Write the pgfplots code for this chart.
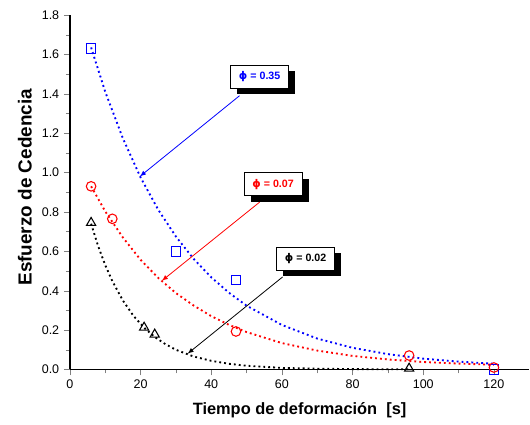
\documentclass[border=0pt]{standalone}
\usepackage{fontspec}
\setmainfont{Liberation Sans}
\newfontfamily\phifont{DejaVu Sans}
\usepackage{pgfplots}
\pgfplotsset{compat=1.18}

\begin{document}
\begin{tikzpicture}
% page frame around the axis and its labels
\path (-52.5pt,-41.25pt) rectangle (345pt,277.5pt);
\begin{axis}[
  at={(0pt,0pt)}, anchor=south west,
  scale only axis, width=345pt, height=266.25pt,
  xmin=0, xmax=130, ymin=0, ymax=1.8,
  axis x line=bottom, axis y line=left,
  axis line style={-, line width=1.1pt},
  xtick={0,20,40,60,80,100,120}, minor x tick num=1,
  xticklabels={0,20,40,60,80,100,120},
  ytick={0,0.2,0.4,0.6,0.8,1.0,1.2,1.4,1.6,1.8}, minor y tick num=1,
  yticklabels={0.0,0.2,0.4,0.6,0.8,1.0,1.2,1.4,1.6,1.8},
  tick align=outside,
  major tick length=4.5pt, minor tick length=3pt,
  tick label style={font=\fontsize{9.4}{10}\selectfont},
  xlabel={Tiempo de deformación\ \ \mbox{[s]}},
  ylabel={Esfuerzo de Cedencia},
  xlabel style={font=\fontsize{12.3}{14}\selectfont\bfseries,
    at={(axis description cs:0.5,-0.1155)}, anchor=center},
  ylabel style={font=\fontsize{14.2}{16}\selectfont\bfseries,
    at={(axis description cs:-0.0978,0.514)}, anchor=center},
  clip=false,
]
% fitted decay curves
\addplot[blue, line width=1.4pt, dash pattern=on 1.4pt off 2.3pt] coordinates {
 (6,1.635) (10,1.410) (15,1.173) (20,0.975) (25,0.811) (30,0.675) (35,0.562)
 (40,0.468) (45,0.390) (50,0.324) (60,0.226) (70,0.157) (80,0.110) (90,0.078)
 (100,0.055) (110,0.040) (120,0.029)};
\addplot[red, line width=1.4pt, dash pattern=on 1.4pt off 2.3pt] coordinates {
 (6,0.930) (10,0.803) (15,0.670) (20,0.557) (25,0.465) (30,0.388) (35,0.325)
 (40,0.271) (45,0.227) (50,0.190) (60,0.134) (70,0.096) (80,0.069) (90,0.051)
 (100,0.038) (110,0.030) (120,0.024)};
\addplot[black, line width=1.4pt, dash pattern=on 1.4pt off 2.3pt] coordinates {
 (6,0.740) (8,0.626) (10,0.530) (12,0.449) (15,0.350) (18,0.272) (21,0.212)
 (24,0.165) (27,0.129) (30,0.100) (35,0.066) (40,0.044) (45,0.029) (50,0.019)
 (60,0.008) (70,0.004) (80,0.002) (90,0.001) (96,0.001)};
% measured points
\addplot[only marks, blue, mark=square, mark size=3.6pt, mark options={line width=0.8pt}] coordinates {
 (6,1.63) (30,0.60) (47,0.455) (120,0.0)};
\addplot[only marks, red, mark=o, mark size=3.6pt, mark options={line width=0.8pt}] coordinates {
 (6,0.93) (12,0.765) (47,0.193) (96,0.071) (120,0.01)};
\addplot[only marks, black, mark=triangle, mark size=4pt, mark options={line width=0.8pt}] coordinates {
 (6,0.745) (21,0.213) (24,0.178) (96,0.005)};
% annotation arrows
\draw[blue, line width=0.6pt, -latex] (axis cs:48,1.39) -- (axis cs:19.8,0.98);
\draw[red, line width=0.6pt, -latex] (axis cs:53.7,0.85) -- (axis cs:26,0.45);
\draw[black, line width=0.6pt, -latex] (axis cs:60.2,0.47) -- (axis cs:33.3,0.08);
% labelled boxes with a solid shadow
\node[fill=black, minimum width=43.5pt, minimum height=17.25pt, inner sep=0pt] at (axis cs:55.58,1.455) {};
\node[draw=black, fill=white, line width=0.6pt, minimum width=43.5pt, minimum height=17.25pt,
  inner sep=1pt, text=blue, font=\fontsize{8}{9}\selectfont\bfseries] at (axis cs:53.7,1.485)
  {{\phifont\bfseries ϕ} = 0.35};
\node[fill=black, minimum width=43.5pt, minimum height=17.25pt, inner sep=0pt] at (axis cs:59.38,0.910) {};
\node[draw=black, fill=white, line width=0.6pt, minimum width=43.5pt, minimum height=17.25pt,
  inner sep=1pt, text=red, font=\fontsize{8}{9}\selectfont\bfseries] at (axis cs:57.5,0.94)
  {{\phifont\bfseries ϕ} = 0.07};
\node[fill=black, minimum width=43.5pt, minimum height=17.25pt, inner sep=0pt] at (axis cs:68.58,0.531) {};
\node[draw=black, fill=white, line width=0.6pt, minimum width=43.5pt, minimum height=17.25pt,
  inner sep=1pt, text=black, font=\fontsize{8}{9}\selectfont\bfseries] at (axis cs:66.7,0.561)
  {{\phifont\bfseries ϕ} = 0.02};
\end{axis}
\end{tikzpicture}
\end{document}
